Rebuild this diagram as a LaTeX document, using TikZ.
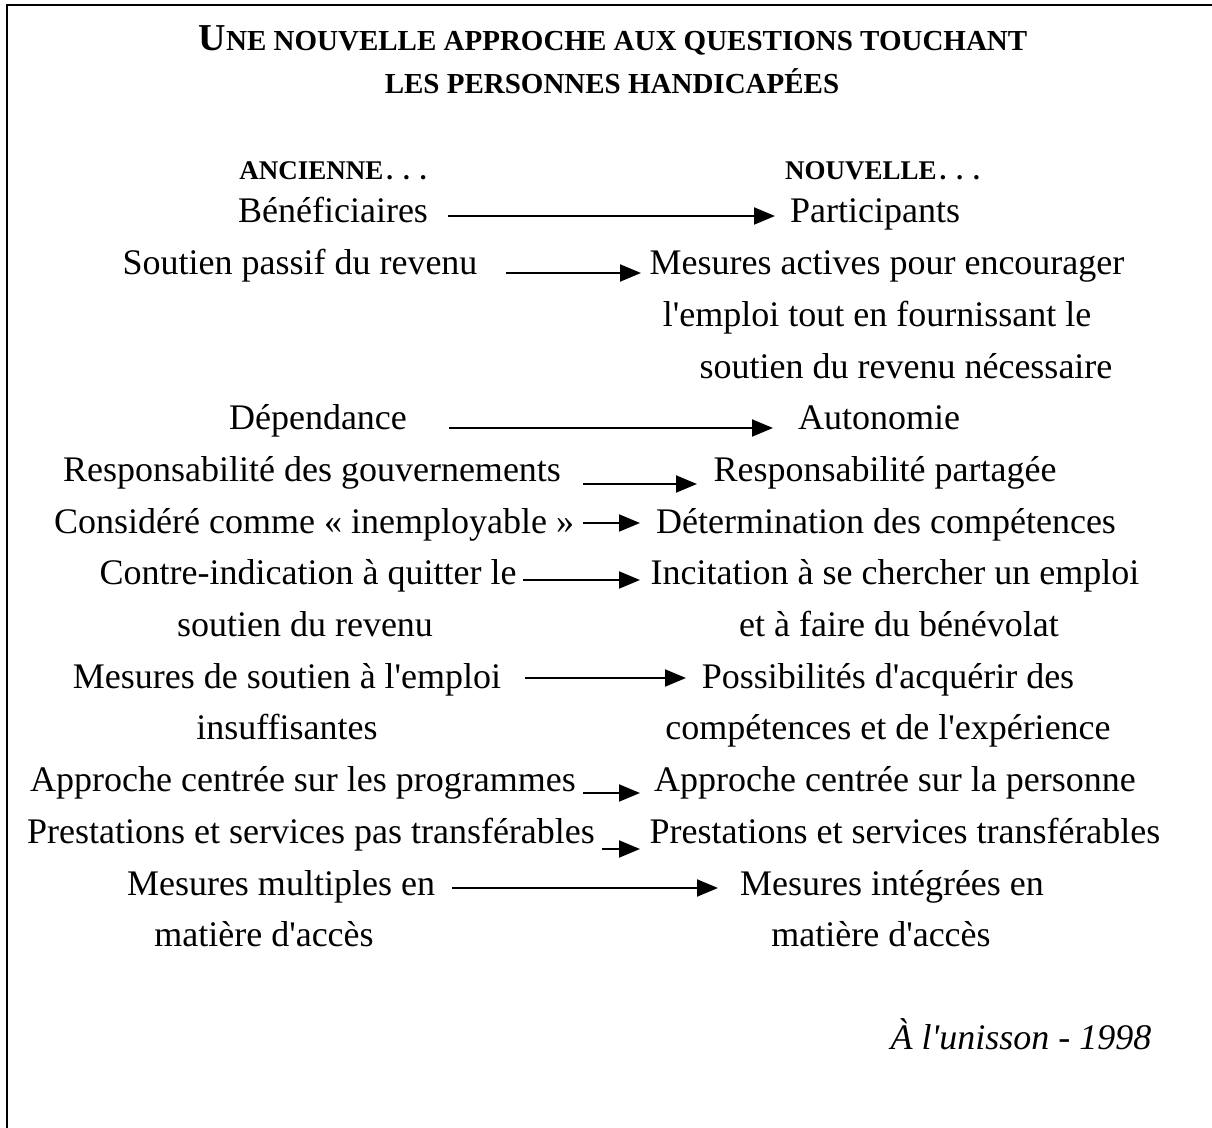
\documentclass[tikz,border=0pt]{standalone}
\usepackage{fontspec}
\setmainfont{Liberation Serif}
\usetikzlibrary{arrows.meta}
\newcommand{\myap}{\textquotesingle}
\newcommand{\mydots}{\hspace{1.5pt}.\hspace{5pt}.\hspace{5pt}.}
\begin{document}
\begin{tikzpicture}[x=0.5pt,y=-0.5pt,
  txt/.style={font=\fontsize{18}{20}\selectfont, inner sep=0pt, anchor=base},
  hdr/.style={font=\fontsize{13.5}{15}\selectfont\bfseries, inner sep=0pt, anchor=base},
  ttl/.style={font=\fontsize{14.5}{16}\selectfont\bfseries, inner sep=0pt, anchor=base},
  src/.style={font=\fontsize{18}{20}\selectfont\itshape, inner sep=0pt, anchor=base},
  arr/.style={line width=1pt, -{Triangle[length=10.5pt,width=8.5pt]}},
  frame/.style={line width=1.4pt}]
\useasboundingbox (0,0) rectangle (1212,1128);
\clip (0,0) rectangle (1212,1128);
\draw[frame] (7,5) rectangle (1216,1140);

% title
\node[ttl] (t1) at (613,51) {{\fontsize{19}{20}\selectfont U}NE NOUVELLE APPROCHE AUX QUESTIONS TOUCHANT};
\node[ttl] (t2) at (612,94) {LES PERSONNES HANDICAPÉES};

% headers
\node[hdr] (hA) at (333,180) {ANCIENNE\mydots};
\node[hdr] (hN) at (882.5,180) {NOUVELLE\mydots};

% left column
\node[txt] (L0) at (333,223) {Bénéficiaires};
\node[txt] (L1) at (300,274.7) {Soutien passif du revenu};
\node[txt] (L4) at (318,429.8) {Dépendance};
\node[txt] (L5) at (312,481.5) {Responsabilité des gouvernements};
\node[txt] (L6) at (314,533.2) {Considéré comme « inemployable »};
\node[txt] (L7) at (308,584.9) {Contre-indication à quitter le};
\node[txt] (L8) at (305,636.6) {soutien du revenu};
\node[txt] (L9) at (287,688.3) {Mesures de soutien à l\myap emploi};
\node[txt] (L10) at (287,740) {insuffisantes};
\node[txt] (L11) at (303,791.7) {Approche centrée sur les programmes};
\node[txt] (L12) at (311,843.4) {Prestations et services pas transférables};
\node[txt] (L13) at (281,895.1) {Mesures multiples en};
\node[txt] (L14) at (264,946.8) {matière d\myap accès};

% right column
\node[txt] (R0) at (875,223) {Participants};
\node[txt] (R1) at (887,274.7) {Mesures actives pour encourager};
\node[txt] (R2) at (877,326.4) {l\myap emploi tout en fournissant le};
\node[txt] (R3) at (906,378.1) {soutien du revenu nécessaire};
\node[txt] (R4) at (879,429.8) {Autonomie};
\node[txt] (R5) at (885,481.5) {Responsabilité partagée};
\node[txt] (R6) at (886,533.2) {Détermination des compétences};
\node[txt] (R7) at (895,584.9) {Incitation à se chercher un emploi};
\node[txt] (R8) at (899,636.6) {et à faire du bénévolat};
\node[txt] (R9) at (888,688.3) {Possibilités d\myap acquérir des};
\node[txt] (R10) at (888,740) {compétences et de l\myap expérience};
\node[txt] (R11) at (895,791.7) {Approche centrée sur la personne};
\node[txt] (R12) at (905,843.4) {Prestations et services transférables};
\node[txt] (R13) at (892,895.1) {Mesures intégrées en};
\node[txt] (R14) at (881,946.8) {matière d\myap accès};

% source
\node[src] (S) at (1021,1050) {À l\myap unisson - 1998};

% arrow end points
\coordinate (a0s) at (448,216);  \coordinate (a0e) at (775,216);
\coordinate (a1s) at (506,273);  \coordinate (a1e) at (641,273);
\coordinate (a4s) at (449,428);  \coordinate (a4e) at (773,428);
\coordinate (a5s) at (583,484);  \coordinate (a5e) at (697,484);
\coordinate (a6s) at (583,523);  \coordinate (a6e) at (640,523);
\coordinate (a7s) at (523,580);  \coordinate (a7e) at (640,580);
\coordinate (a9s) at (525,678);  \coordinate (a9e) at (686,678);
\coordinate (a11s) at (583,793); \coordinate (a11e) at (640,793);
\coordinate (a12s) at (602,849); \coordinate (a12e) at (640,849);
\coordinate (a13s) at (452,888); \coordinate (a13e) at (718,888);

\draw[arr] (a0s) -- (a0e);
\draw[arr] (a1s) -- (a1e);
\draw[arr] (a4s) -- (a4e);
\draw[arr] (a5s) -- (a5e);
\draw[arr] (a6s) -- (a6e);
\draw[arr] (a7s) -- (a7e);
\draw[arr] (a9s) -- (a9e);
\draw[arr] (a11s) -- (a11e);
\draw[arr] (a12s) -- (a12e);
\draw[arr] (a13s) -- (a13e);
\end{tikzpicture}
\end{document}
